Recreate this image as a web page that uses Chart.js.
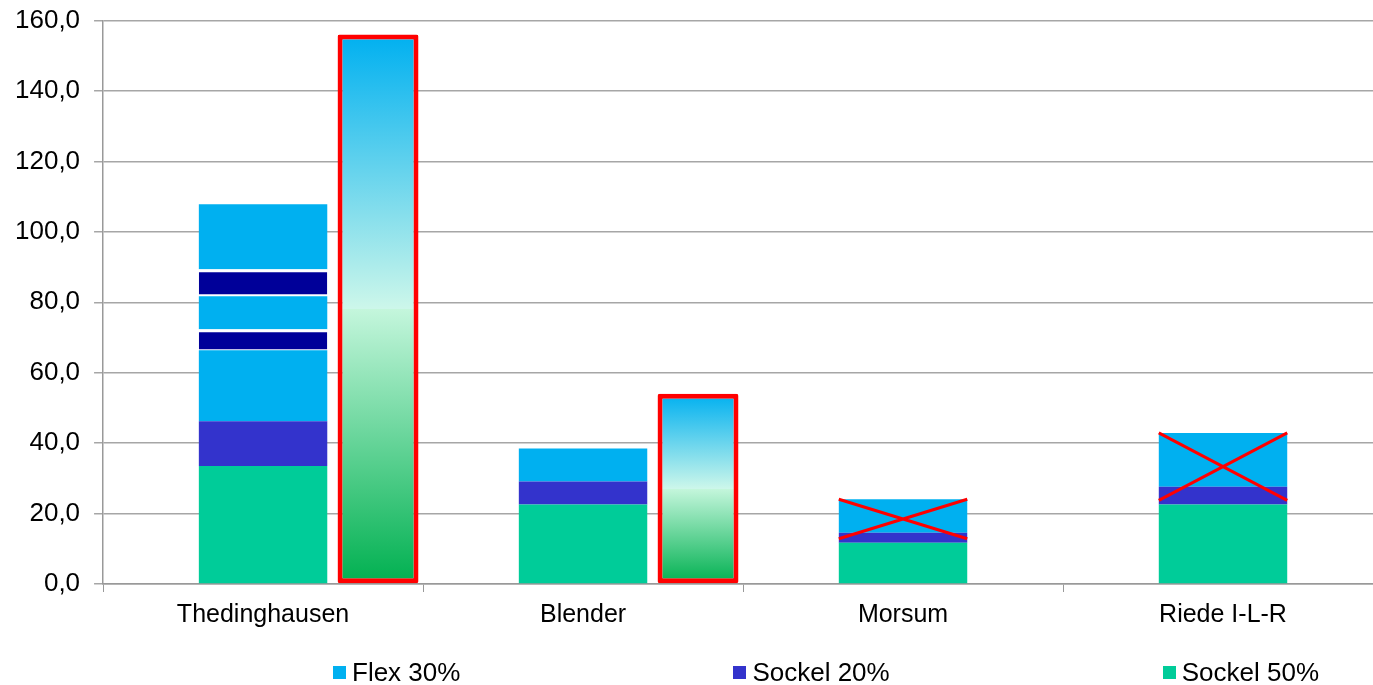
<!DOCTYPE html>
<html lang="de">
<head>
  <meta charset="UTF-8">
  <title>Thedinghausen Kontingente</title>
  <script src="https://cdn.jsdelivr.net/npm/chart.js"></script>
  <style>
    body { margin: 0; overflow: hidden; background: #fff; font-family: "Liberation Sans", Arial, sans-serif; }
    #wrap { position: absolute; left: 0; top: 0; width: 1395px; height: 685px; }
    #legend { position: absolute; left: 333px; top: 657px; display: flex; gap: 273px; font-size: 26px; color: #000; white-space: nowrap; }
    #legend span.item { display: flex; align-items: center; }
    #legend i { display: inline-block; width: 13px; height: 13px; margin-right: 6px; }
  </style>
</head>
<body>
  <div id="wrap">
    <canvas id="chart" width="1395" height="685"></canvas>
    <div id="legend"></div>
  </div>

  <script>
    const labels = ['Thedinghausen', 'Blender', 'Morsum', 'Riede I-L-R'];

    const sockel50 = [33.5, 22.6, 11.7, 22.6];
    const sockel20 = [12.7, 6.5, 2.85, 5.0];
    const flex30 = [20.2, 9.4, 9.5, 15.3];

    // extra slices on top of the first bar (dark stripes inside Flex)
    const stripe1 = [5.9, null, null, null];
    const flexMid = [9.4, null, null, null];
    const stripe2 = [7.7, null, null, null];
    const flexTop = [18.4, null, null, null];

    // second bar with gradient and red frame
    const bedarf = [156, 54, null, null];

    // which categories get the red cross
    const crossedOut = [false, false, true, true];

    const legendItems = [
      { text: 'Flex 30%', color: '#00b0f0' },
      { text: 'Sockel 20%', color: '#3333cc' },
      { text: 'Sockel 50%', color: '#00cc99' }
    ];

    const MAIN_BP = 1.117;

    function gradientFill(ctx) {
      const chart = ctx.chart;
      if (!chart.chartArea || ctx.raw == null) return '#00b0f0';
      const y = chart.scales.y;
      const top = y.getPixelForValue(ctx.raw);
      const bottom = y.getPixelForValue(0);
      const g = chart.ctx.createLinearGradient(0, bottom, 0, top);
      g.addColorStop(0, '#00b050');
      g.addColorStop(0.5, '#c4f6dc');
      g.addColorStop(0.5, '#cdf7ea');
      g.addColorStop(1, '#00b0f0');
      return g;
    }

    const crossPlugin = {
      id: 'cross',
      afterDatasetsDraw(chart) {
        const c = chart.ctx;
        const flexMeta = chart.getDatasetMeta(3);
        const s20Meta = chart.getDatasetMeta(2);
        c.save();
        c.strokeStyle = '#ff0000';
        c.lineWidth = 3;
        crossedOut.forEach((on, i) => {
          if (!on) return;
          const f = flexMeta.data[i];
          const s = s20Meta.data[i];
          const left = f.x - f.width / 2;
          const right = f.x + f.width / 2;
          const top = f.y;
          const bottom = s.base - 4;
          c.beginPath();
          c.moveTo(left, top);
          c.lineTo(right, bottom);
          c.moveTo(left, bottom);
          c.lineTo(right, top);
          c.stroke();
        });
        c.restore();
      }
    };

    const mainSeg = (label, data, color, extra) => Object.assign({
      label: label,
      data: data,
      backgroundColor: color,
      stack: 'main',
      barPercentage: MAIN_BP,
      borderWidth: 0
    }, extra || {});

    const whiteEdge = (t, b) => ({
      borderColor: '#ffffff',
      borderWidth: { top: t, bottom: b, left: 0, right: 0 },
      borderSkipped: false
    });

    new Chart(document.getElementById('chart'), {
      type: 'bar',
      data: {
        labels: labels,
        datasets: [
          { label: 'pad', data: [null, null, null, null], stack: 'pad' },
          mainSeg('Sockel 50%', sockel50, '#00cc99'),
          mainSeg('Sockel 20%', sockel20, '#3333cc'),
          mainSeg('Flex 30%', flex30, '#00b0f0'),
          mainSeg('Flex a', stripe1, '#000099', whiteEdge(3, 1)),
          mainSeg('Flex b', flexMid, '#00b0f0'),
          mainSeg('Flex c', stripe2, '#000099', whiteEdge(3, 2)),
          mainSeg('Flex d', flexTop, '#00b0f0'),
          {
            label: 'Bedarf',
            data: bedarf,
            stack: 'grad',
            barPercentage: 0.704,
            backgroundColor: gradientFill,
            borderColor: '#ff0000',
            borderWidth: 5,
            borderRadius: 2,
            borderSkipped: false
          }
        ]
      },
      options: {
        responsive: false,
        animation: false,
        datasets: { bar: { categoryPercentage: 1.078 } },
        layout: { padding: { left: 1, right: 12, top: 20, bottom: 47 } },
        plugins: { legend: { display: false }, tooltip: { enabled: false } },
        scales: {
          x: {
            stacked: true,
            grid: { drawOnChartArea: false, drawTicks: true, tickLength: 8, color: '#999999', offset: true },
            border: { color: '#999999', width: 1.5 },
            ticks: { color: '#000', padding: 8, font: { family: 'Liberation Sans', size: 25 } }
          },
          y: {
            stacked: true,
            min: 0,
            max: 160,
            grid: { color: '#a6a6a6', lineWidth: 1.5, tickLength: 9 },
            border: { color: '#999999', width: 1.5 },
            ticks: {
              stepSize: 20,
              padding: 14,
              color: '#000',
              font: { family: 'Liberation Sans', size: 26, lineHeight: 0.5 },
              callback: (v) => v.toFixed(1).replace('.', ',')
            }
          }
        }
      },
      plugins: [crossPlugin]
    });

    const legend = document.getElementById('legend');
    legendItems.forEach((it) => {
      const s = document.createElement('span');
      s.className = 'item';
      s.innerHTML = '<i style="background:' + it.color + '"></i>' + it.text;
      legend.appendChild(s);
    });
  </script>
</body>
</html>
